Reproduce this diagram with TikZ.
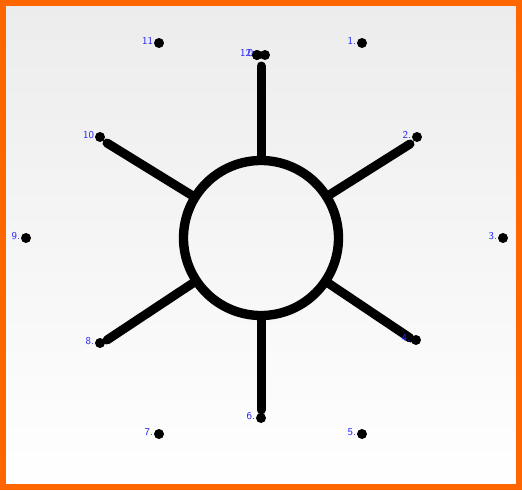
\documentclass[tikz,border=0pt]{standalone}
\usepackage{xcolor}
\usepackage{tikz}
\usetikzlibrary{positioning,calc}
\definecolor{frameorange}{RGB}{255,102,0}
\definecolor{lblblue}{RGB}{40,40,255}

\begin{document}
\begin{tikzpicture}[x=0.03cm,y=-0.03cm,
   hub/.style={circle,draw,line width=0.28cm,minimum size=4.65cm,inner sep=0pt},
   spoke/.style={line width=0.27cm,line cap=round},
   dot/.style={circle,fill,inner sep=0pt,minimum size=0.3cm},
   lbl/.style={text=lblblue,inner sep=0.4pt,yshift=1.5pt,font=\sffamily\fontsize{9}{10}\selectfont}]
  \useasboundingbox (0,0) rectangle (522,490);
  \shade[top color=gray!15,bottom color=white] (0,0) rectangle (522,490);
  \draw[frameorange,line width=0.18cm] (3,3) rectangle (519,487);
  % hub and spokes
  \node[hub] (c) at (261,238) {};
  \coordinate (s1) at (261,66);
  \coordinate (s2) at (410,144);
  \coordinate (s3) at (410,338);
  \coordinate (s4) at (261,410);
  \coordinate (s5) at (107,340);
  \coordinate (s6) at (107,143);
  \draw[spoke] (c)--(s1); \draw[spoke] (c)--(s2); \draw[spoke] (c)--(s3);
  \draw[spoke] (c)--(s4); \draw[spoke] (c)--(s5); \draw[spoke] (c)--(s6);
  % numbered points
  \node[dot,label={[lbl]180:12}] (p12) at (257,55) {};
  \node[dot] (p0) at (265,55) {};
  \node[lbl,anchor=east] (l0) at (257,55) {0.};
  \node[dot] at (p12) {};
  \node[dot,label={[lbl]180:1.}] (p1) at (362,43) {};
  \node[dot,label={[lbl]180:2.}] (p2) at (417,137) {};
  \node[dot,label={[lbl]180:3.}] (p3) at (503,238) {};
  \node[dot,label={[lbl]180:4.}] (p4) at (416,340) {};
  \node[dot,label={[lbl]180:5.}] (p5) at (362,434) {};
  \node[dot,label={[lbl]180:6.}] (p6) at (261,418) {};
  \node[dot,label={[lbl]180:7.}] (p7) at (159,434) {};
  \node[dot,label={[lbl]180:8.}] (p8) at (100,343) {};
  \node[dot,label={[lbl]180:9.}] (p9) at (26,238) {};
  \node[dot,label={[lbl]180:10}] (p10) at (100,137) {};
  \node[dot,label={[lbl]180:11}] (p11) at (159,43) {};
\end{tikzpicture}
\end{document}
